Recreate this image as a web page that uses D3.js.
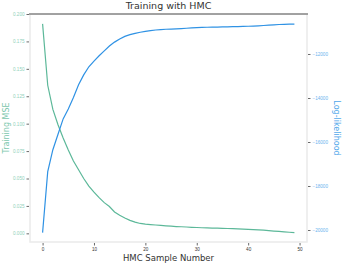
<!DOCTYPE html>
<html>
<head>
<meta charset="utf-8">
<script src="https://cdn.jsdelivr.net/npm/d3@7"></script>
<style>
  body { margin: 0; background: #fff; }
  svg { display: block; font-family: "DejaVu Sans", sans-serif; }
</style>
</head>
<body>
<svg id="chart" width="342" height="264"></svg>
<script>
const samples = d3.range(50);

const mse = [
    0.191, 0.135, 0.113, 0.099, 0.087, 0.076, 0.066, 0.058, 0.050, 0.043,
    0.0375, 0.0325, 0.028, 0.0245, 0.0195, 0.0165, 0.014, 0.0118, 0.0102, 0.009,
    0.0084, 0.008, 0.0076, 0.0072, 0.0068, 0.0065, 0.0062, 0.006, 0.0058, 0.0055,
    0.0053, 0.0051, 0.0049, 0.0048, 0.0047, 0.0046, 0.0044, 0.0043, 0.0041, 0.0039,
    0.0036, 0.0034, 0.0032, 0.0029, 0.0025, 0.0021, 0.0017, 0.0013, 0.001, 0.0007
];

const logLik = [
    -20120, -17350, -16350, -15650, -14950, -14500, -13980, -13400, -12950, -12580,
    -12320, -12080, -11860, -11640, -11460, -11320, -11200, -11120, -11060, -11010,
    -10970, -10940, -10910, -10890, -10875, -10865, -10855, -10845, -10830, -10815,
    -10800, -10792, -10785, -10780, -10775, -10770, -10765, -10758, -10752, -10745,
    -10738, -10730, -10720, -10705, -10690, -10675, -10660, -10650, -10645, -10640
];

const xTicks = [0, 10, 20, 30, 40, 50];
const mseTicks = [0, 0.025, 0.05, 0.075, 0.1, 0.125, 0.15, 0.175, 0.2];
const llTicks = [-20000, -18000, -16000, -14000, -12000];

const green = '#5cb899';
const blue = '#2f92e4';

const box = { left: 30, right: 307, top: 14, bottom: 242 };

const svg = d3.select('#chart');

const x = d3.scaleLinear().domain([-2.45, 51.45]).range([box.left, box.right]);
const yL = d3.scaleLinear().domain([-0.0079, 0.2]).range([box.bottom, box.top]);
const yR = d3.scaleLinear().domain([-20545, -10182]).range([box.bottom, box.top]);

// frame: light gray sides, dark top
svg.append('rect')
    .attr('x', box.left).attr('y', box.top)
    .attr('width', box.right - box.left).attr('height', box.bottom - box.top)
    .attr('fill', 'none').attr('stroke', '#ececec').attr('stroke-width', 1.6);
svg.append('line')
    .attr('x1', box.left - 1).attr('x2', box.right + 1)
    .attr('y1', box.top).attr('y2', box.top)
    .attr('stroke', '#555').attr('stroke-width', 1);

const styleAxis = (g, color) => {
    g.select('.domain').remove();
    g.selectAll('.tick line').attr('stroke', '#444').attr('stroke-width', 0.8);
    g.selectAll('.tick text').attr('fill', color).style('font-size', '4.6px');
};

svg.append('g')
    .attr('transform', `translate(0,${box.bottom + 1})`)
    .call(d3.axisBottom(x).tickValues(xTicks).tickSize(2.5).tickPadding(2))
    .call(g => styleAxis(g, '#333'));

svg.append('g')
    .attr('transform', `translate(${box.left - 1},0)`)
    .call(d3.axisLeft(yL).tickValues(mseTicks).tickFormat(d3.format('.3f')).tickSize(2.5).tickPadding(2))
    .call(g => styleAxis(g, '#8fd1ba'));

svg.append('g')
    .attr('transform', `translate(${box.right + 1},0)`)
    .call(d3.axisRight(yR).tickValues(llTicks).tickFormat(d => '\u2212' + Math.abs(d)).tickSize(2.5).tickPadding(2))
    .call(g => styleAxis(g, '#6bb3ee'));

// lines
svg.append('path')
    .datum(samples)
    .attr('fill', 'none').attr('stroke', green).attr('stroke-width', 1.2)
    .attr('d', d3.line().x(i => x(i)).y(i => yL(mse[i])));

svg.append('path')
    .datum(samples)
    .attr('fill', 'none').attr('stroke', blue).attr('stroke-width', 1.2)
    .attr('d', d3.line().x(i => x(i)).y(i => yR(logLik[i])));

// text
svg.append('text')
    .attr('x', (box.left + box.right) / 2).attr('y', 9)
    .attr('text-anchor', 'middle').attr('fill', '#333')
    .style('font-size', '9.5px')
    .text('Training with HMC');

svg.append('text')
    .attr('x', (box.left + box.right) / 2).attr('y', 261)
    .attr('text-anchor', 'middle').attr('fill', '#333')
    .style('font-size', '8.5px')
    .text('HMC Sample Number');

svg.append('text')
    .attr('transform', `translate(6,${(box.top + box.bottom) / 2}) rotate(-90)`)
    .attr('text-anchor', 'middle').attr('dy', '0.35em').attr('fill', '#7cc7ad')
    .style('font-size', '8px')
    .text('Training MSE');

svg.append('text')
    .attr('transform', `translate(337,${(box.top + box.bottom) / 2}) rotate(90)`)
    .attr('text-anchor', 'middle').attr('dy', '0.35em').attr('fill', '#4ea6ea')
    .style('font-size', '8px')
    .text('Log-likelihood');
</script>
</body>
</html>
